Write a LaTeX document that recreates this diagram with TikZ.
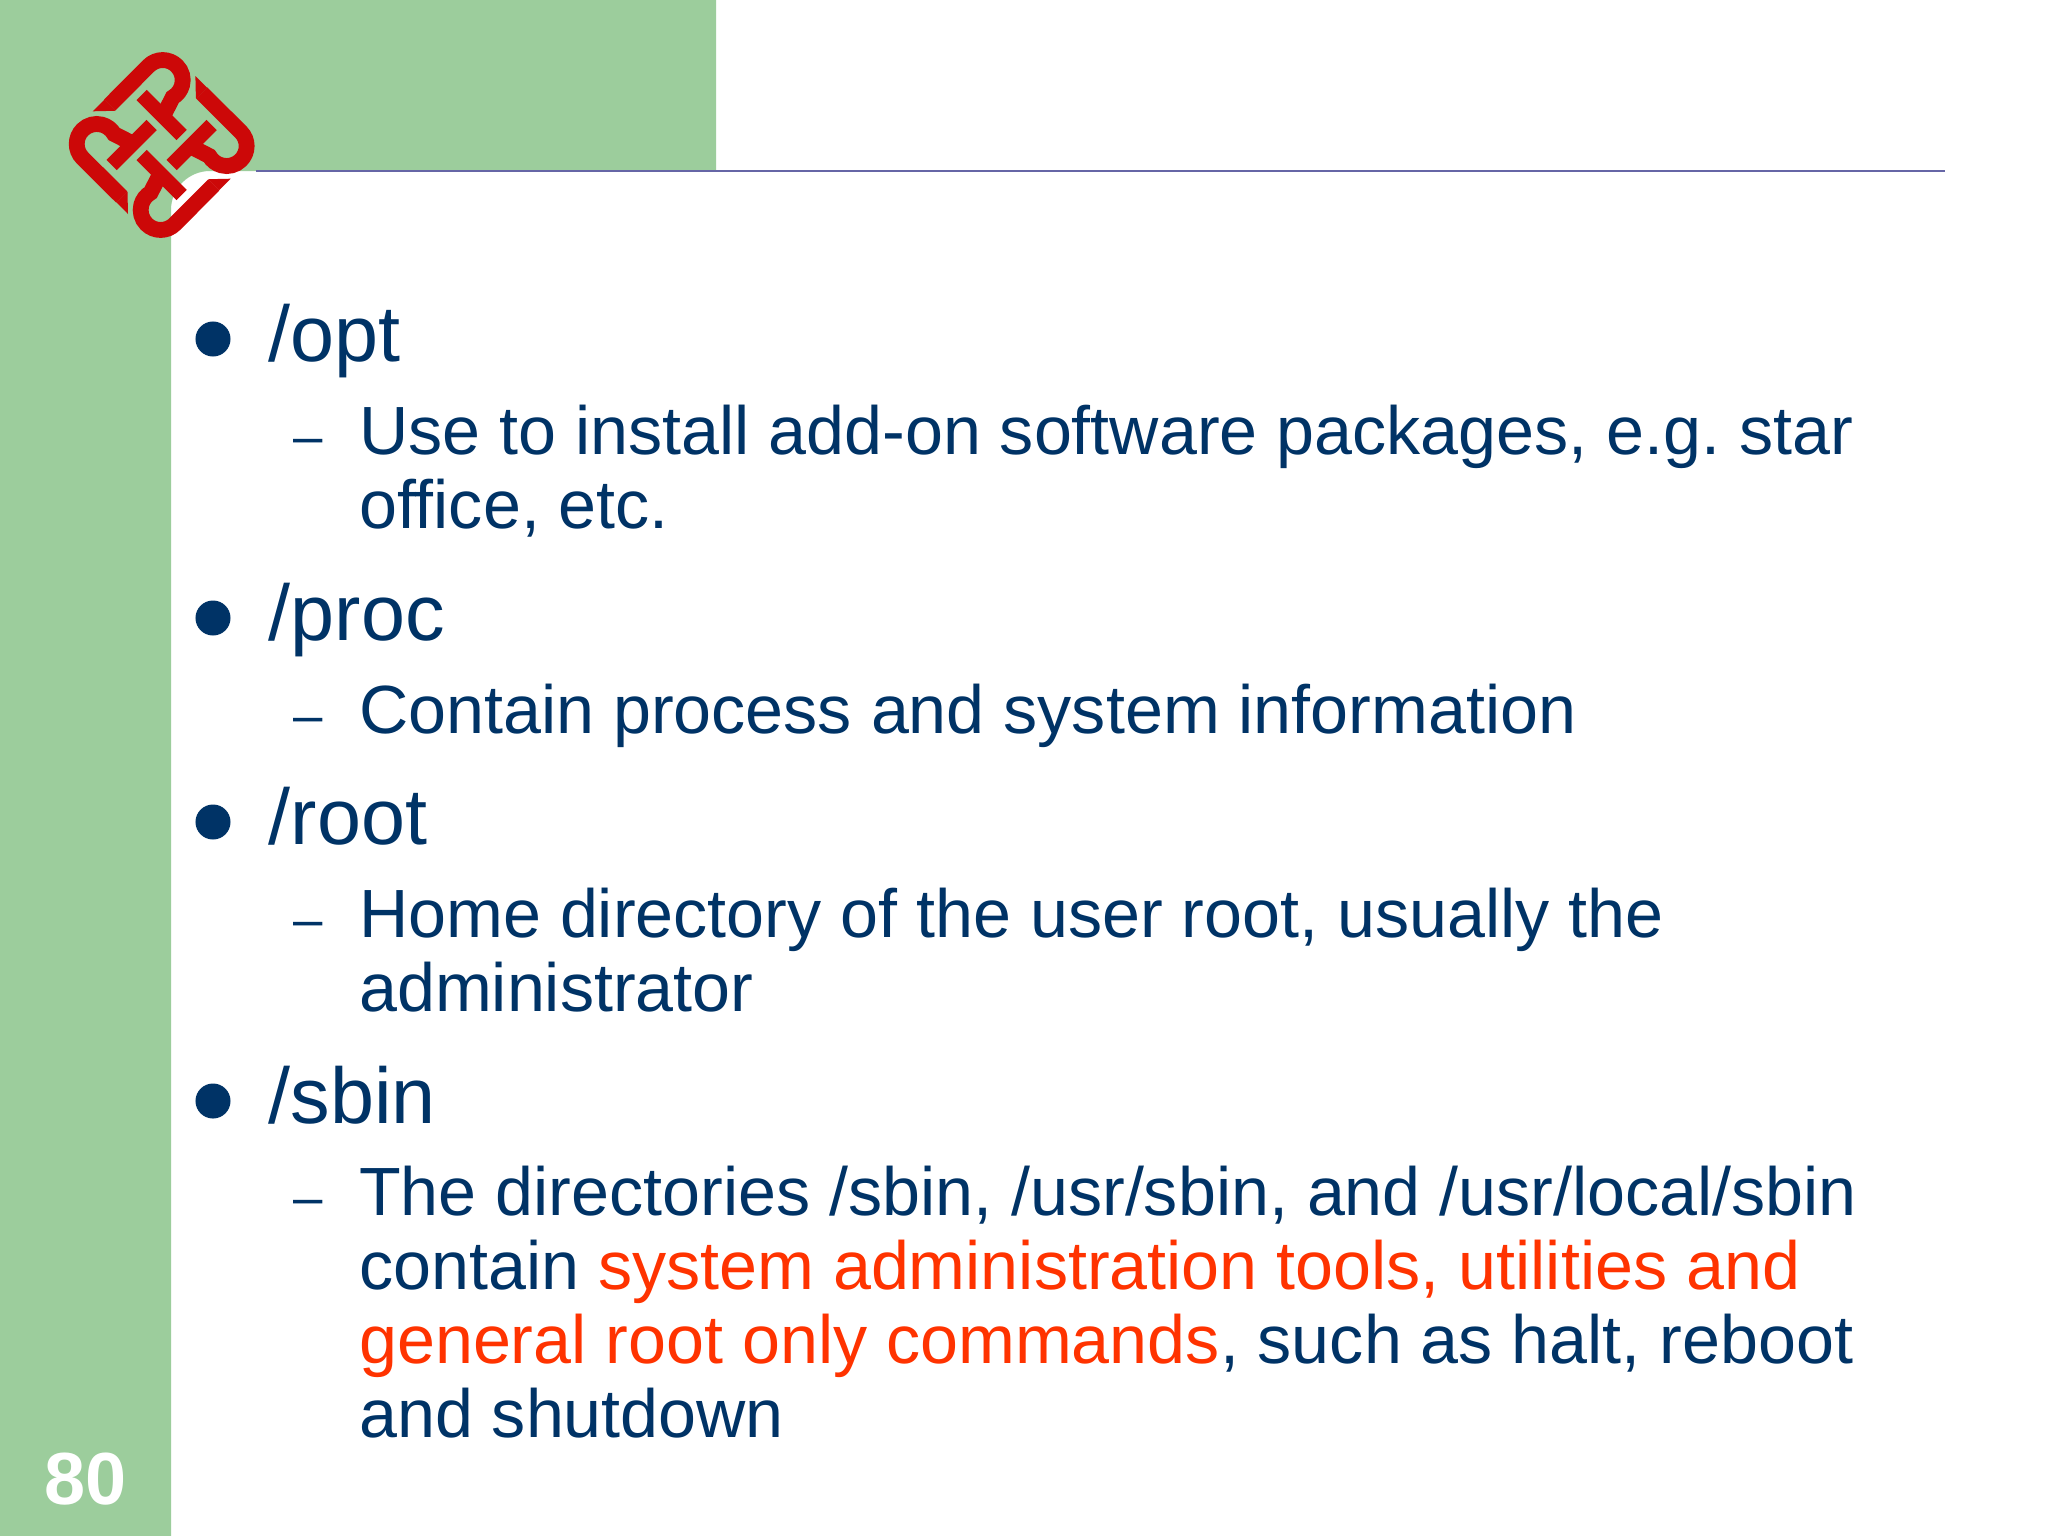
\documentclass[tikz,border=0pt]{standalone}
\usepackage{fontspec}
\setmainfont{Liberation Sans}
\definecolor{barGreen}{HTML}{9CCD9C}
\definecolor{textBlue}{HTML}{003366}
\definecolor{hotRed}{HTML}{FF3300}
\definecolor{logoRed}{HTML}{CC0808}
\definecolor{ruleBlue}{HTML}{6666A6}
\tikzset{
	headtext/.style={anchor=base west, inner sep=0pt, text=textBlue, font=\fontsize{22.5pt}{26pt}\selectfont},
	subtext/.style={anchor=base west, inner sep=0pt, text=textBlue, font=\fontsize{19.4pt}{23pt}\selectfont},
	dashmark/.style={anchor=base west, inner sep=0pt, text=textBlue, font=\fontsize{15pt}{18pt}\selectfont},
	bulletdot/.style={circle, fill=textBlue, inner sep=0pt, minimum size=0.35cm},
}
\frenchspacing
\begin{document}
\begin{tikzpicture}[x=0.01cm,y=-0.01cm]
	\useasboundingbox (0,0) rectangle (2048,1536);
	\fill[white] (0,0) rectangle (2048,1536);
	\fill[barGreen] (0,0)--(716,0)--(716,171)--(210,171) arc[start angle=270, end angle=180, radius=39]--(171,1536)--(0,1536)--cycle;
	\coordinate (R1) at (256,171);
	\coordinate (R2) at (1945,171);
	\draw[ruleBlue, line width=0.6pt] (R1)--(R2);
	% logo
	\foreach \a in {0,90,180,270} {
		\begin{scope}[shift={(161.7,145)}, rotate=\a]
			\draw[logoRed, line width=0.158cm] (-52,-40)--(-13.1,-79.1) arc[start angle=225, end angle=420, radius=20]--(3,-32);
			\fill[logoRed] (-57.3,-45.3)--(-69,-33.7)--(-47,-34.2)--(-46.7,-34.7)--cycle;
			\draw[logoRed, line width=0.145cm] (-20,-50)--(20,-10);
		\end{scope}
	}
	% bullets
	\node[bulletdot] (d1) at (213,339) {};
	\node[bulletdot] (d2) at (213,618) {};
	\node[bulletdot] (d3) at (213,822) {};
	\node[bulletdot] (d4) at (213,1101) {};
	\node[headtext] (opt) at (268,361) {/opt};
	\node[headtext] (proc) at (268,640) {/proc};
	\node[headtext] (root) at (268,844) {/root};
	\node[headtext] (sbin) at (268,1123) {/sbin};
	% sub items
	\node[dashmark] (m1) at (293,454) {–};
	\node[dashmark] (m2) at (293,733) {–};
	\node[dashmark] (m3) at (293,937) {–};
	\node[dashmark] (m4) at (293,1215) {–};
	\node[subtext] (opt1) at (358.5,454) {Use to install add-on software packages, e.g. star};
	\node[subtext] (opt2) at (358.5,528) {office, etc.};
	\node[subtext] (proc1) at (358.5,733) {Contain process and system information};
	\node[subtext] (root1) at (358.5,937) {Home directory of the user root, usually the};
	\node[subtext] (root2) at (358.5,1011) {administrator};
	\node[subtext] (sbin1) at (358.5,1215) {The directories /sbin, /usr/sbin, and /usr/local/sbin};
	\node[subtext] (sbin2) at (358.5,1289) {contain \textcolor{hotRed}{system administration tools, utilities and}};
	\node[subtext] (sbin3) at (358.5,1363) {\textcolor{hotRed}{general root only commands}, such as halt, reboot};
	\node[subtext] (sbin4) at (358.5,1437) {and shutdown};
	\node[anchor=base west, inner sep=0pt, text=white, font=\fontsize{21pt}{25pt}\selectfont\bfseries] (pagenum) at (44,1504) {80};
\end{tikzpicture}
\end{document}
